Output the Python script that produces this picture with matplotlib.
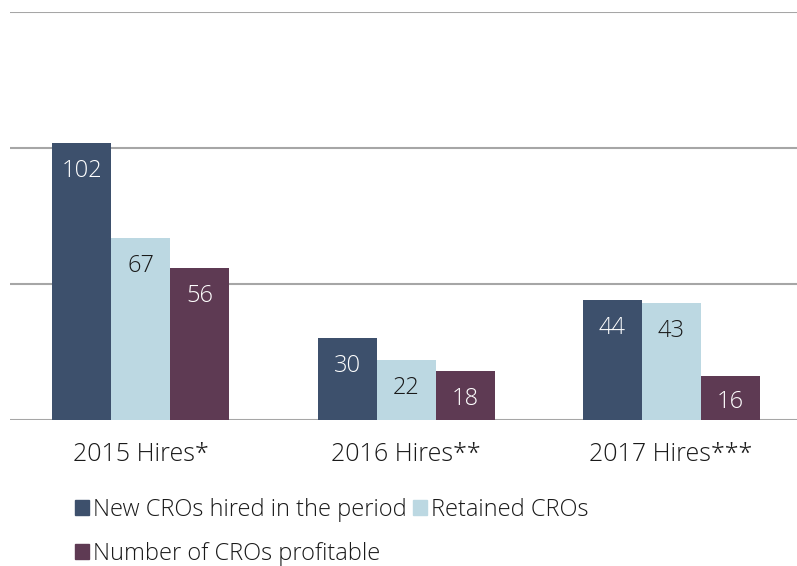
import matplotlib
matplotlib.use("Agg")
import matplotlib.pyplot as plt
import numpy as np
from matplotlib.patches import Patch

categories = ["2015 Hires*", "2016 Hires**", "2017 Hires***"]
series_names = ["New CROs hired in the period", "Retained CROs", "Number of CROs profitable"]
new_cros = [102, 30, 44]
retained = [67, 22, 43]
profitable = [56, 18, 16]
colors = ["#3D506C", "#BCD8E2", "#5E3A53"]
text_colors = ["white", "#1a1a1a", "white"]

plt.rcParams['font.family'] = ['Open Sans', 'DejaVu Sans']
FW = 'light'

fig = plt.figure(figsize=(7.97, 5.66), dpi=100)
ax = fig.add_axes([10/797, 146/566, 787/797, 408/566])

x = np.arange(len(categories))
w = 0.2226
series = [new_cros, retained, profitable]
px_per_unit = 408 / 150.0
off = 28 / px_per_unit
for i, (vals, c, tc) in enumerate(zip(series, colors, text_colors)):
    xs = x + (i - 1) * w
    ax.bar(xs, vals, width=w, color=c, zorder=3, edgecolor='none')
    for xi, v in zip(xs, vals):
        y = max(v - off, v / 2 - 1.2)
        ax.text(xi, y, str(v), ha='center', va='center', color=tc, fontsize=17, fontweight=FW, zorder=4)

ax.set_xlim(-0.494, 2.475)
ax.set_ylim(0, 150)
ax.set_yticks([0, 50, 100, 150])
ax.yaxis.grid(True, color='#A6A6A6', linewidth=1.5, zorder=0)
ax.set_yticklabels([])
ax.tick_params(axis='y', length=0)
ax.set_xticks(x)
ax.set_xticklabels(categories, fontsize=18, fontweight=FW, color='#1a1a1a')
ax.tick_params(axis='x', length=0, pad=16)
for s in ax.spines.values():
    s.set_visible(False)

handles = [Patch(color=colors[0], label=series_names[0]),
           Patch(color=colors[2], label=series_names[2]),
           Patch(color=colors[1], label=series_names[1])]
leg = fig.legend(handles=handles, ncol=2, loc='upper left', bbox_to_anchor=(75/797, 1 - 498/566),
                 frameon=False, handlelength=0.58, handleheight=0.58, handletextpad=0.2,
                 columnspacing=0.25, labelspacing=0.85,
                 prop={'size': 17, 'weight': FW}, borderaxespad=0, borderpad=0)
for t in leg.get_texts():
    t.set_color('#1a1a1a')

fig.savefig("out.png", dpi=100)
